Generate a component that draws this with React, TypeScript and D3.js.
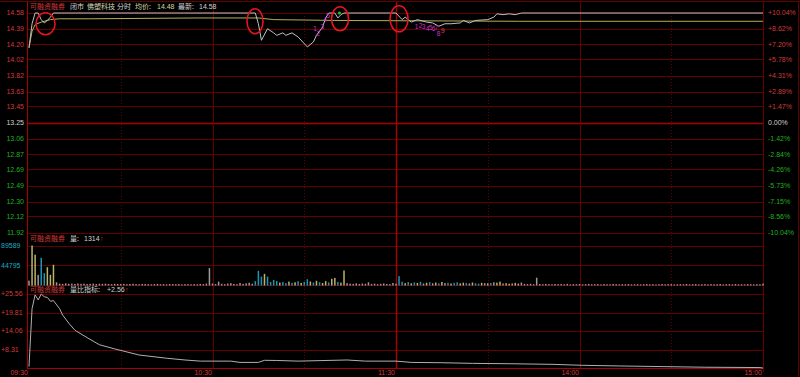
import React from 'react';
import * as d3 from 'd3';

const W = 800;
const H = 377;

// ---- data ----
const priceTicks = [14.58, 14.39, 14.2, 14.02, 13.82, 13.63, 13.45, 13.25, 13.06, 12.87, 12.69, 12.49, 12.3, 12.12, 11.92];
const priceTickLabels = ['14.58', '14.39', '14.20', '14.02', '13.82', '13.63', '13.45', '13.25', '13.06', '12.87', '12.69', '12.49', '12.30', '12.12', '11.92'];
const pctTickLabels = ['+10.04%', '+8.62%', '+7.20%', '+5.78%', '+4.31%', '+2.89%', '+1.47%', '0.00%', '-1.42%', '-2.84%', '-4.26%', '-5.73%', '-7.15%', '-8.56%', '-10.04%'];
const prevClose = 13.25;

const timeTickMinutes = [0, 60, 120, 180, 240];
const timeTickLabels = ['09:30', '10:30', '11:30', '14:00', '15:00'];
const solidGridMinutes = [60, 180];
const midGridMinutes = [120];
const dottedGridMinutes = [30, 90, 150, 210];

// price (minute index from 09:30, price)
const priceMinutes = [0, 1, 2, 3, 4, 5, 6, 7, 8, 74, 75, 76, 78, 80, 81, 83, 84, 86, 88, 91, 93, 94, 96, 97, 98, 100, 101, 102, 103, 119, 120, 122, 123, 125, 127, 130, 132, 134, 136, 138, 141, 142, 144, 146, 150, 152, 153, 155, 157, 159, 161, 240];
const priceValues = [14.16, 14.45, 14.58, 14.58, 14.5, 14.46, 14.49, 14.53, 14.58, 14.58, 14.45, 14.25, 14.39, 14.34, 14.31, 14.34, 14.31, 14.34, 14.29, 14.17, 14.23, 14.31, 14.41, 14.52, 14.58, 14.58, 14.52, 14.56, 14.58, 14.58, 14.58, 14.5, 14.53, 14.47, 14.5, 14.47, 14.46, 14.42, 14.45, 14.45, 14.46, 14.49, 14.46, 14.49, 14.5, 14.53, 14.57, 14.56, 14.57, 14.56, 14.58, 14.58];

// average price
const avgMinutes = [0, 1, 2, 4, 7, 10, 20, 55, 75, 80, 100, 160, 240];
const avgValues = [14.16, 14.36, 14.44, 14.47, 14.5, 14.51, 14.51, 14.52, 14.52, 14.5, 14.49, 14.48, 14.48];

// volume per minute (241 minutes)
const volumes = [
  10900, 89589, 69000, 23800, 62000, 27600, 41000, 23800, 46500, 7200,
  4200, 3600, 4800, 3900, 4100, 3500, 4600, 3800, 4000, 3300,
  3700, 4300, 3200, 3900, 3600, 4100, 3400, 3000, 3800, 3500,
  3200, 3600, 2900, 3400, 3900, 3100, 2800, 3500, 3300, 3000,
  2700, 3200, 3600, 2900, 3100, 2600, 3400, 3000, 2800, 3300,
  2500, 3100, 2900, 2600, 3200, 2800, 3500, 3000, 4200, 39000,
  4500, 3200, 8600, 3800, 3000, 4400, 5200, 3500, 2900, 5600,
  3600, 4800, 6200, 3900, 9800, 32900, 20000, 26000, 20000, 8000,
  12500, 10000, 6500, 7800, 5200, 8800, 6000, 7200, 9500, 5800,
  8200, 14000, 9000, 6600, 10500, 7400, 5600, 9800, 7000, 15000,
  17000, 8000, 6500, 33600, 5200, 4100, 3600, 4800, 3300, 4400,
  3900, 7200, 3500, 4200, 3100, 3800, 4600, 3400, 3000, 5800,
  4000, 21000, 8500, 5200, 7600, 4800, 6900, 5600, 8200, 4500,
  6200, 7400, 5000, 6600, 4700, 7900, 5400, 6100, 4400, 5800,
  7000, 4900, 6300, 5500, 4600, 6800, 5100, 4300, 6000, 5300,
  4800, 5600, 7200, 6400, 8600, 4500, 5200, 4000, 4700, 5900,
  4300, 6800, 3600, 3100, 3800, 2900, 17500, 3300, 2800, 3500,
  3000, 2600, 3400, 2900, 3200, 2700, 3600, 2500, 3100, 2800,
  3300, 2600, 3000, 3500, 2700, 2900, 3200, 2400, 3100, 2800,
  2600, 3400, 2900, 2500, 3000, 2700, 3300, 2600, 2800, 3100,
  2500, 2900, 3200, 2700, 3000, 2400, 2800, 3300, 2600, 2900,
  3100, 2500, 2800, 3000, 2700, 3400, 2600, 2900, 3200, 2500,
  2800, 3100, 2600, 3000, 2700, 2900, 3300, 2400, 2800, 3000,
  2600, 3200, 2700, 2900, 2500, 3100, 2800, 2600, 3000, 2700,
  4200,
];
// u = up tick, d = down tick, n = unchanged
const volumeDirRows = [
  'nuundduuun', 'nnnnnnnnnn', 'nnnnnnnnnn', 'nnnnnnnnnn', 'nnnnnnnnnn', 'nnnnnnnnnn', 'nnnnnnnnnn',
  'nnnndddudd', 'dduddududu', 'ddududuudu', 'uduunnnnnn', 'nnnnnnnnnn',
  'nddudududn', 'udnudundud', 'duudnuddun', 'udnuunuunu', 'unnnnnnnnn',
  'nnnnnnnnnn', 'nnnnnnnnnn', 'nnnnnnnnnn', 'nnnnnnnnnn', 'nnnnnnnnnn', 'nnnnnnnnnn', 'nnnnnnnnnn', 'n',
];
const volumeTicks = [89589, 44795];
const volumeTickLabels = ['89589', '44795'];

// volume ratio
const ratioMinutes = [0, 1, 2, 3, 4, 5, 6, 7, 8, 10, 11, 13, 15, 19, 23, 28, 36, 45, 51, 56, 66, 69, 75, 77, 81, 88, 104, 110, 120, 125, 135, 145, 156, 171, 181, 193, 207, 221, 239, 240];
const ratioValues = [3.0, 21.0, 25.3, 23.7, 25.56, 24.7, 24.5, 23.3, 23.5, 21.0, 19.0, 16.5, 14.3, 12.0, 9.8, 8.5, 6.6, 5.6, 5.05, 4.7, 4.7, 4.3, 4.3, 4.95, 4.9, 4.7, 5.05, 4.7, 4.7, 4.3, 4.2, 4.0, 3.9, 3.7, 3.4, 3.2, 3.0, 2.8, 2.7, 2.56];
const ratioTicks = [25.56, 19.81, 14.06, 8.31];
const ratioTickLabels = ['+25.56', '+19.81', '+14.06', '+8.31'];

// annotations drawn on the screenshot (minute, price)
const circleMinutes = [5.4, 73.9, 101.7, 121];
const circlePrices = [14.45, 14.48, 14.51, 14.51];
const circleRx = [9.5, 8, 8.5, 9];
const circleRy = [11, 12.5, 12, 13];

const markText1 = ['1', '2', '3', '4', '5'];
const markMin1 = [93.5, 94.6, 95.9, 96.8, 97.8];
const markPrice1 = [14.39, 14.33, 14.42, 14.5, 14.55];
const markText2 = ['1', '2', '3', '4', '5', '6', '7', '8', '9'];
const markMin2 = [126.7, 128, 129, 130.3, 131.3, 132.3, 133.3, 133.9, 135.3];
const markPrice2 = [14.41, 14.43, 14.42, 14.39, 14.4, 14.39, 14.4, 14.33, 14.36];

// ---- style ----
const GRID = '#640000';
const GRID_BRIGHT = '#a80000';
const RED = '#d23a3a';
const GREEN = '#22b022';
const WHITE = '#d0d0d0';
const CYAN = '#1eaac8';
const NUM_FONT = '"Liberation Sans", Arial, sans-serif';
const CJK_FONT = '"Noto Sans CJK SC", sans-serif';

export default function App() {
  const left = 27;
  const right = 763.5;
  const x = d3.scaleLinear().domain([0, 240]).range([29, 763]);
  const yP = d3.scaleLinear().domain([11.92, 14.58]).range([233, 13]);
  const yV = d3.scaleLinear().domain([0, 89589]).range([285.5, 245.5]);
  const yR = d3.scaleLinear().domain([2.56, 25.56]).range([368, 294]);

  const dirs = volumeDirRows.join('');

  const priceLine = d3.line<number>().x((d) => x(priceMinutes[d])).y((d) => yP(priceValues[d]));
  const avgLine = d3.line<number>().x((d) => x(avgMinutes[d])).y((d) => yP(avgValues[d]));
  const ratioLine = d3.line<number>().x((d) => x(ratioMinutes[d])).y((d) => yR(ratioValues[d]));

  const volColor = (c: string) => (c === 'u' ? '#b8b468' : c === 'd' ? '#1a96b4' : '#9a9a9a');

  const pctColor = (i: number) => (i < 7 ? RED : i === 7 ? WHITE : GREEN);

  return (
    <div style={{ position: 'fixed', left: 0, top: 0, width: W, height: H, background: '#000' }}>
      <svg width={W} height={H} style={{ display: 'block' }}>
        <rect x={0} y={0} width={W} height={H} fill="#000" />

        {/* horizontal price grid */}
        {priceTicks.map((p, i) => (
          <line key={'pg' + i} x1={left} x2={right} y1={Math.round(yP(p)) + 0.5} y2={Math.round(yP(p)) + 0.5}
            stroke={p === prevClose ? GRID_BRIGHT : GRID} strokeWidth={p === prevClose ? 1.5 : 1} />
        ))}
        {/* volume grid */}
        {volumeTicks.map((v, i) => (
          <line key={'vg' + i} x1={left} x2={right} y1={Math.round(yV(v)) + 0.5} y2={Math.round(yV(v)) + 0.5} stroke={GRID} />
        ))}
        <line x1={left} x2={right} y1={285.5} y2={285.5} stroke={GRID} />
        {/* ratio grid */}
        {ratioTicks.map((v, i) => (
          <line key={'rg' + i} x1={left} x2={right} y1={Math.round(yR(v)) + 0.5} y2={Math.round(yR(v)) + 0.5} stroke={GRID} />
        ))}
        <line x1={left} x2={right} y1={368.5} y2={368.5} stroke={GRID_BRIGHT} strokeWidth={1} />

        {/* vertical grid */}
        {solidGridMinutes.map((m, i) => (
          <line key={'vs' + i} x1={Math.round(x(m)) + 0.5} x2={Math.round(x(m)) + 0.5} y1={2} y2={368} stroke={GRID} />
        ))}
        {midGridMinutes.map((m, i) => (
          <line key={'vm' + i} x1={Math.round(x(m)) + 0.5} x2={Math.round(x(m)) + 0.5} y1={2} y2={368} stroke={GRID_BRIGHT} strokeWidth={1.4} />
        ))}
        {dottedGridMinutes.map((m, i) => (
          <line key={'vd' + i} x1={Math.round(x(m)) + 0.5} x2={Math.round(x(m)) + 0.5} y1={13} y2={368} stroke={GRID} strokeDasharray="1,2" />
        ))}

        {/* frame */}
        <line x1={0} x2={W} y1={1.5} y2={1.5} stroke={GRID} />
        <line x1={left + 0.5} x2={left + 0.5} y1={1.5} y2={368.5} stroke={GRID_BRIGHT} />
        <line x1={right} x2={right} y1={1.5} y2={372} stroke={GRID} />
        <line x1={798.5} x2={798.5} y1={1.5} y2={H} stroke={GRID} />

        {/* volume bars */}
        {volumes.map((v, i) => (
          <rect key={'vb' + i} x={x(i) - 0.75} width={1.5} y={yV(v)} height={yV(0) - yV(v)} fill={volColor(dirs[i] || 'n')} />
        ))}

        {/* price & average */}
        <path d={avgLine(avgMinutes.map((_, i) => i)) || ''} fill="none" stroke="#b0b058" strokeWidth={1} />
        <path d={priceLine(priceMinutes.map((_, i) => i)) || ''} fill="none" stroke="#c0c0c0" strokeWidth={1} />

        {/* volume ratio */}
        <path d={ratioLine(ratioMinutes.map((_, i) => i)) || ''} fill="none" stroke="#b0b0b0" strokeWidth={1} />

        {/* markers */}
        {markText1.map((t, i) => (
          <text key={'m1' + i} x={x(markMin1[i])} y={yP(markPrice1[i])} fill="#d030d0" fontSize={6.5} fontFamily={NUM_FONT} textAnchor="middle" dy="0.35em">{t}</text>
        ))}
        {markText2.map((t, i) => (
          <text key={'m2' + i} x={x(markMin2[i])} y={yP(markPrice2[i])} fill={t === '9' ? '#e04060' : '#d030d0'} fontSize={6.5} fontFamily={NUM_FONT} textAnchor="middle" dy="0.35em">{t}</text>
        ))}
        <circle cx={x(101.5)} cy={yP(14.58)} r={1.6} fill="#20c020" />

        {/* annotation circles */}
        {circleMinutes.map((m, i) => (
          <ellipse key={'c' + i} cx={x(m)} cy={yP(circlePrices[i])} rx={circleRx[i]} ry={circleRy[i]} fill="none" stroke="#e8141e" strokeWidth={1.6} />
        ))}

        {/* left price labels */}
        {priceTicks.map((p, i) => (
          <text key={'pl' + i} x={24} y={yP(p)} dy="0.35em" textAnchor="end" fontSize={7} fontFamily={NUM_FONT}
            fill={p > prevClose ? RED : p === prevClose ? WHITE : GREEN}>{priceTickLabels[i]}</text>
        ))}
        {/* right pct labels */}
        {priceTicks.map((p, i) => (
          <text key={'rl' + i} x={768} y={yP(p)} dy="0.35em" textAnchor="start" fontSize={7} fontFamily={NUM_FONT}
            fill={pctColor(i)}>{pctTickLabels[i]}</text>
        ))}
        {/* volume labels */}
        {volumeTicks.map((v, i) => (
          <text key={'vl' + i} x={1} y={i === 0 ? 246 : yV(v)} dy="0.35em" fontSize={7} fontFamily={NUM_FONT} fill={CYAN}>{volumeTickLabels[i]}</text>
        ))}
        {/* ratio labels */}
        {ratioTicks.map((v, i) => (
          <text key={'ral' + i} x={1} y={yR(v)} dy="0.35em" fontSize={7} fontFamily={NUM_FONT} fill={RED}>{ratioTickLabels[i]}</text>
        ))}
        {/* time labels */}
        {timeTickMinutes.map((m, i) => (
          <text key={'tl' + i} x={Math.round(x(m)) - 1} y={372.5} dy="0.35em" textAnchor="end" fontSize={7} fontFamily={NUM_FONT} fill={RED}>{timeTickLabels[i]}</text>
        ))}

        {/* headers */}
        <text x={30} y={7} dy="0.35em" fontSize={7} fontFamily={CJK_FONT} fill={RED}>可融资融券</text>
        <text x={70} y={7} dy="0.35em" fontSize={7} fontFamily={CJK_FONT} fill={WHITE}>闭市</text>
        <text x={87} y={7} dy="0.35em" fontSize={7} fontFamily={CJK_FONT} fill="#d4d4b0">佛塑科技</text>
        <text x={117} y={7} dy="0.35em" fontSize={7} fontFamily={CJK_FONT} fill={WHITE}>分时</text>
        <text x={135} y={7} dy="0.35em" fontSize={7} fontFamily={CJK_FONT} fill="#d4d4a0">均价:</text>
        <text x={157} y={7} dy="0.35em" fontSize={7} fontFamily={NUM_FONT} fill="#d4d4a0">14.48</text>
        <text x={178} y={7} dy="0.35em" fontSize={7} fontFamily={CJK_FONT} fill={WHITE}>最新:</text>
        <text x={199} y={7} dy="0.35em" fontSize={7} fontFamily={NUM_FONT} fill={WHITE}>14.58</text>

        <text x={30} y={239} dy="0.35em" fontSize={7} fontFamily={CJK_FONT} fill={RED}>可融资融券</text>
        <text x={70} y={239} dy="0.35em" fontSize={7} fontFamily={CJK_FONT} fill={WHITE}>量:</text>
        <text x={84} y={239} dy="0.35em" fontSize={7} fontFamily={NUM_FONT} fill={WHITE}>1314</text>
        <text x={100} y={239} dy="0.35em" fontSize={7} fontFamily={NUM_FONT} fill={RED}>↑</text>

        <text x={30} y={290} dy="0.35em" fontSize={7} fontFamily={CJK_FONT} fill={RED}>可融资融券</text>
        <text x={70} y={290} dy="0.35em" fontSize={7} fontFamily={CJK_FONT} fill={WHITE}>量比指标:</text>
        <text x={107} y={290} dy="0.35em" fontSize={7} fontFamily={NUM_FONT} fill={WHITE}>+2.56</text>
        <text x={125} y={290} dy="0.35em" fontSize={7} fontFamily={NUM_FONT} fill={RED}>↑</text>
      </svg>
    </div>
  );
}
